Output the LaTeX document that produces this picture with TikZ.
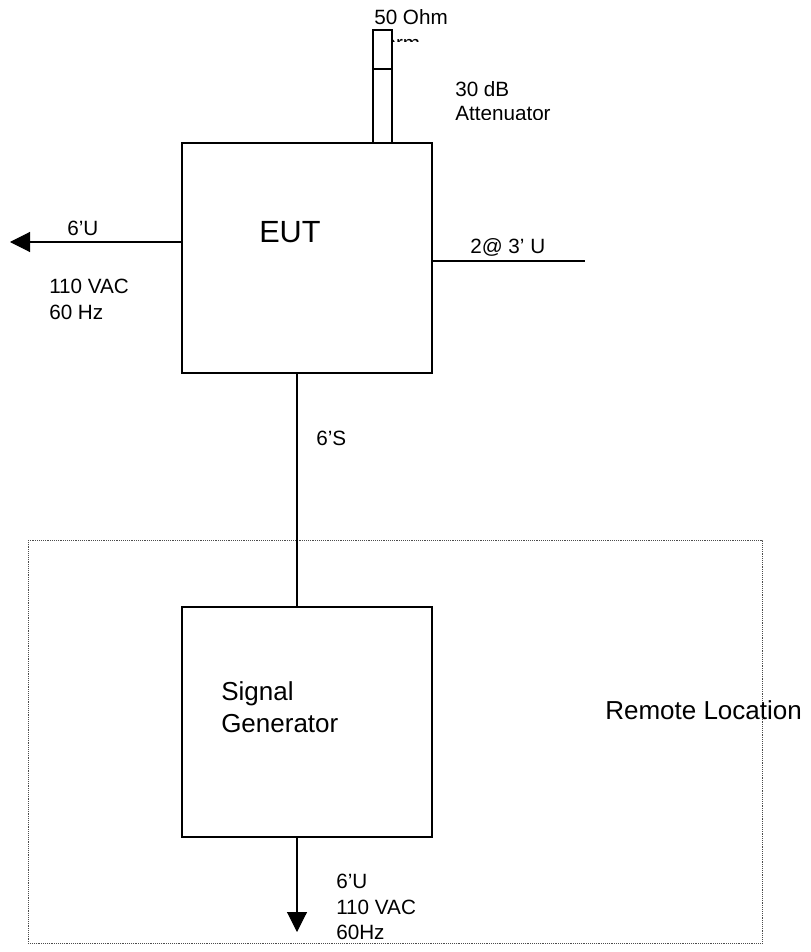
\documentclass[tikz,border=0pt]{standalone}
\usepackage{fontspec}
\setmainfont{Liberation Sans}
\usetikzlibrary{positioning,arrows.meta}
\tikzset{
  unitbox/.style={draw,thick,minimum width=187.5pt,minimum height=172.5pt,inner sep=0pt},
  cable/.style={thick},
  lbl/.style={inner sep=0pt,anchor=base west,font=\fontsize{15.5}{19}\selectfont},
  biglbl/.style={inner sep=0pt,anchor=base west,font=\fontsize{19.5}{24}\selectfont},
  tip/.style={-{Triangle[length=15pt,width=15pt]}}
}
\begin{document}
\begin{tikzpicture}[x=0.75pt,y=-0.75pt]
  \useasboundingbox (0,0) rectangle (810,952);
  % remote location
  \draw[densely dotted,gray!60!black] (28,540) rectangle (762,943);
  % boxes
  \node[unitbox] (eut) at (307,258) {};
  \node[inner sep=0pt,anchor=base west,font=\fontsize{23}{27}\selectfont] (euttxt) at (259,243) {EUT};
  \node[unitbox] (gen) at (307,722) {};
  \node[biglbl] (sig) at (221,700) {Signal};
  \node[biglbl] (sig2) at (221,732) {Generator};
  % attenuator and termination
  \node[lbl] (ohm) at (374,25) {50 Ohm};
  \begin{scope}
    \clip (393,30) rectangle (430,41.5);
    \node[lbl] (term) at (374,51) {Term};
  \end{scope}
  \draw[thick,fill=white] (373,30) rectangle (392,143);
  \draw[thick] (373,69) -- (392,69);
  \coordinate (att) at (383,143);
  \node[lbl] (attn1) at (455,97) {30 dB};
  \begin{scope}
    \clip (440,100) rectangle (600,120);
    \node[lbl] (attn2) at (455,121) {Attenuator};
  \end{scope}
  % cables
  \coordinate (west) at (10,242);
  \draw[cable,tip] (eut.west |- west) -- (west);
  \node[lbl] (c1) at (67,235) {6'U};
  \node[lbl] (pw1a) at (49,293) {110 VAC};
  \node[lbl] (pw1b) at (49,319) {60 Hz};
  \coordinate (east) at (585,261);
  \draw[cable] (eut.east |- east) -- (east);
  \node[lbl] (c2) at (470,253) {2@ 3' U};
  \coordinate (link) at (297,0);
  \draw[cable] (eut.south -| link) -- (gen.north -| link);
  \node[lbl] (c3) at (316,445) {6'S};
  \coordinate (south) at (297,932);
  \draw[cable,tip] (gen.south -| south) -- (south);
  \node[lbl] (pw2a) at (336,888) {6'U};
  \node[lbl] (pw2b) at (336,914) {110 VAC};
  \node[lbl] (pw2c) at (336,939) {60Hz};
  \node[biglbl] (remote) at (605,719) {Remote Location};
\end{tikzpicture}
\end{document}
